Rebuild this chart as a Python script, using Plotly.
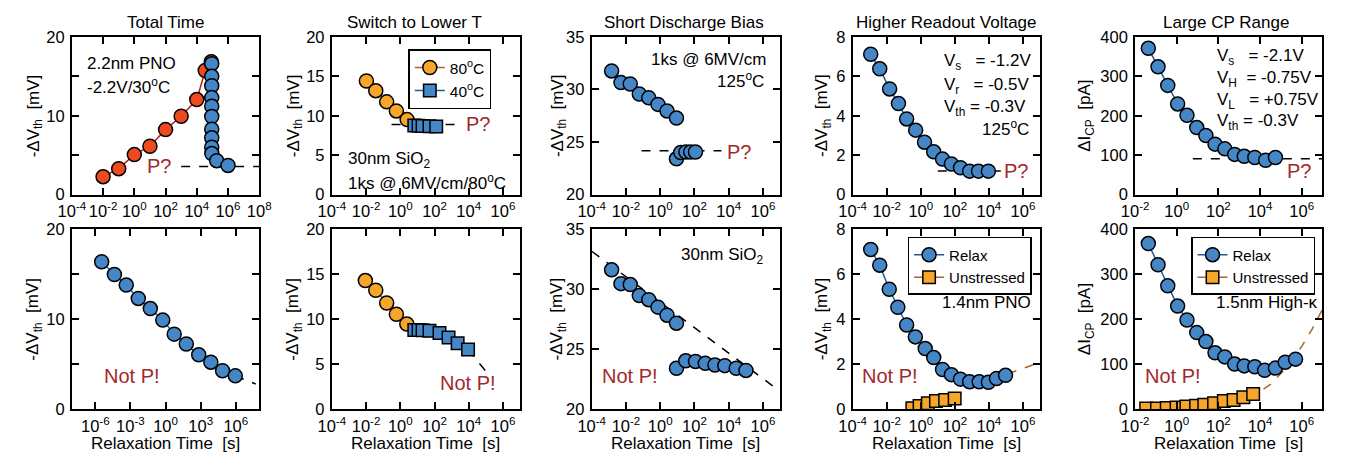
import plotly.graph_objects as go

W, H = 1359, 469
FONT = "Liberation Sans, Arial, Helvetica, sans-serif"

BLUE = "#4586C7"
BLUE_LINE = "#1F5D9B"
ORANGE = "#F6A62B"
ORANGE_LINE = "#A8692C"
RED = "#EE4A1F"
RED_LINE = "#B0231A"
TEXTRED = "#A3282B"

# ---------------- data ----------------
# Panel 1 (top): Total Time, 2.2nm PNO
p1_stress_t = [1e-2, 1e-1, 1e0, 1e1, 1e2, 1e3, 1e4, 3.5e4, 8.5e4]
p1_stress_v = [2.27, 3.29, 5.07, 6.13, 8.24, 9.94, 12.05, 15.74, 16.84]
p1_relax_t = [9.1e4, 9.1e4, 9.1e4, 9.1e4, 9.1e4, 9.1e4, 9.1e4, 9.1e4, 9.1e4, 9.2e4, 1.9e5, 1.0e6]
p1_relax_v = [16.6, 15.0, 13.8, 12.3, 11.2, 9.9, 8.3, 7.2, 6.0, 5.2, 4.3, 3.7]
p1_p_t = [1e3, 1e8]
p1_p_v = [3.57, 3.57]

# Panel 6 (bottom): relaxation only
p6_t = [3.5e-6, 4.3e-5, 4.4e-4, 4.7e-3, 5.0e-2, 0.58, 5.5, 59, 680, 7.4e3, 7.4e4, 9.1e5]
p6_v = [16.38, 14.96, 13.79, 12.30, 11.17, 9.89, 8.33, 7.23, 6.03, 5.21, 4.26, 3.69]
p6_fit_t = [9.1e5, 5.0e7]
p6_fit_v = [3.69, 2.78]

# Panel 2 (top): Switch to lower T
p2_80_t = [1.05e-2, 3.7e-2, 0.16, 0.59, 2.5]
p2_80_v = [14.41, 13.18, 11.76, 10.61, 9.51]
p2_40_t = [6.6, 11.7, 20, 51, 126]
p2_40_v = [8.75, 8.72, 8.7, 8.66, 8.62]
p2_p_t = [0.31, 3800]
p2_p_v = [8.9, 8.9]

# Panel 7 (bottom)
p7_80_t = [9.1e-3, 3.7e-2, 0.16, 0.59, 2.4]
p7_80_v = [14.29, 13.21, 11.79, 10.54, 9.46]
p7_40_t = [6.6, 11.7, 20, 51, 195, 660, 2240, 9100]
p7_40_v = [8.8, 8.8, 8.75, 8.7, 8.45, 7.96, 7.32, 6.61]
p7_fit_t = [9100, 1.3e5]
p7_fit_v = [6.61, 3.93]

# Panel 3 (top): Short discharge bias
p3_up_t = [1.45e-3, 5.1e-3, 1.78e-2, 6.0e-2, 0.214, 0.74, 2.5, 8.9]
p3_up_v = [31.76, 30.65, 30.52, 29.57, 29.20, 28.58, 27.96, 27.28]
p3_lo_t = [8.9, 15.8, 31.6, 60, 115]
p3_lo_v = [23.4, 24.0, 24.05, 24.05, 24.05]
p3_p_t = [0.081, 3800]
p3_p_v = [24.17, 24.17]

# Panel 8 (bottom)
p8_up_t = [1.45e-3, 5.1e-3, 1.78e-2, 6.0e-2, 0.214, 0.74, 2.5, 8.9]
p8_up_v = [31.61, 30.46, 30.38, 29.46, 29.12, 28.50, 27.83, 27.16]
p8_lo_t = [8.9, 31, 115, 427, 1580, 5890, 2.75e4, 1.02e5]
p8_lo_v = [23.40, 24.02, 23.97, 23.81, 23.67, 23.62, 23.40, 23.22]
p8_fit_t = [1.05e-4, 8.9e6]
p8_fit_v = [33.14, 21.53]

# Panel 4 (top): Higher readout voltage
p4_t = [1.15e-3, 3.9e-3, 1.48e-2, 4.9e-2, 0.148, 0.5, 1.66, 5.75, 19, 63, 214, 741, 2450, 9330]
p4_v = [7.12, 6.38, 5.36, 4.62, 3.84, 3.27, 2.66, 2.17, 1.80, 1.55, 1.36, 1.19, 1.19, 1.19]
p4_p_t = [10, 8e4]
p4_p_v = [1.2, 1.2]

# Panel 9 (bottom)
p9_relax_t = [1.15e-3, 3.9e-3, 1.41e-2, 4.5e-2, 0.148, 0.48, 1.82, 5.75, 19, 63, 214, 741, 2690, 9330, 2.8e4, 9.5e4]
p9_relax_v = [7.10, 6.40, 5.33, 4.53, 3.74, 3.21, 2.69, 2.29, 1.76, 1.53, 1.33, 1.21, 1.21, 1.19, 1.36, 1.50]
p9_un_t = [0.32, 0.85, 2.6, 7.8, 27, 98]
p9_un_v = [0.03, 0.14, 0.26, 0.36, 0.40, 0.47]
p9_fit_t = [1.3e5, 1e7]
p9_fit_v = [1.57, 2.07]

# Panel 5 (top): Large CP range
p5_t = [0.043, 0.126, 0.37, 1.1, 3.1, 9.1, 25, 69, 204, 603, 1740, 5620, 1.86e4, 5.5e4]
p5_v = [371, 324, 277, 230, 201, 170, 150, 128, 116, 102, 97, 94, 87, 94]
p5_p_t = [5.9, 1e7]
p5_p_v = [91, 91]

# Panel 10 (bottom)
p10_relax_t = [0.043, 0.126, 0.37, 1.1, 3.1, 9.1, 25, 69, 204, 603, 1740, 5620, 1.66e4, 5.5e4, 1.62e5, 5.1e5]
p10_relax_v = [368, 321, 274, 229, 198, 170, 150, 125, 116, 100, 96, 94, 86, 91, 104, 111]
p10_un_t = [0.034, 0.112, 0.33, 0.98, 2.9, 8.5, 21, 62, 182, 537, 1580, 4680]
p10_un_v = [1.4, 1.4, 2.1, 3.6, 5.7, 7.1, 9.3, 12.9, 17.9, 20.0, 26.4, 33.6]
p10_fit_t = [1, 10, 100, 1e3, 5e3, 3.2e4, 1.6e5, 1e6, 3.2e6, 1e7]
p10_fit_v = [2, 5, 10, 20, 30, 55, 89, 139, 178, 222]

titles = ["Total Time", "Switch to Lower T", "Short Discharge Bias",
          "Higher Readout Voltage", "Large CP Range"]

# ---------------- layout geometry ----------------
cols = [(59, 250), (324, 516), (589, 781), (855, 1046), (1143, 1334)]
rows = [(29, 193), (229, 416)]

def dec(k):
    return "10<sup>%d</sup>" % k

xspec = {
    1: (-4, 8, [-4, -2, 0, 2, 4, 6, 8]),
    2: (-4, 7, [-4, -2, 0, 2, 4, 6]),
    3: (-4, 7, [-4, -2, 0, 2, 4, 6]),
    4: (-4, 7, [-4, -2, 0, 2, 4, 6]),
    5: (-2, 7, [-2, 0, 2, 4, 6]),
    6: (-8, 8, [-6, -3, 0, 3, 6]),
    7: (-4, 7, [-4, -2, 0, 2, 4, 6]),
    8: (-4, 7, [-4, -2, 0, 2, 4, 6]),
    9: (-4, 7, [-4, -2, 0, 2, 4, 6]),
    10: (-2, 7, [-2, 0, 2, 4, 6]),
}
yspec = {
    1: ([0, 20], [0, 5, 10, 15, 20], ["0", "", "10", "", "20"]),
    2: ([0, 20], [0, 5, 10, 15, 20], ["0", "5", "10", "15", "20"]),
    3: ([20, 35], [20, 25, 30, 35], ["20", "25", "30", "35"]),
    4: ([0, 8], [0, 2, 4, 6, 8], ["0", "2", "4", "6", "8"]),
    5: ([0, 400], [0, 100, 200, 300, 400], ["0", "100", "200", "300", "400"]),
}
for k in range(1, 6):
    yspec[k + 5] = yspec[k]

VTH = "-ΔV<sub>th</sub>\u00a0\u00a0[mV]"
ICP = "ΔI<sub>CP</sub>\u00a0\u00a0[pA]"

fig = go.Figure()

def sfx(k):
    return "" if k == 1 else str(k)

def add(k, x, y, mode="lines+markers", color=BLUE, lcolor=BLUE_LINE, symbol="circle",
        size=14, dash=None, name=None, legend=None, lwidth=1.5):
    showleg = name is not None
    tr = dict(x=x, y=y, mode=mode, xaxis="x" + sfx(k), yaxis="y" + sfx(k),
              showlegend=showleg, hoverinfo="skip")
    if "markers" in mode:
        tr["marker"] = dict(color=color, symbol=symbol, size=size,
                            line=dict(color="black", width=1.5))
    tr["line"] = dict(color=lcolor, width=lwidth, dash=dash)
    if showleg:
        tr["name"] = name
        tr["legend"] = legend
    fig.add_trace(go.Scatter(**tr))

SQ = 12.5

# Panel 1
add(1, p1_p_t, p1_p_v, mode="lines", lcolor="black", dash="dash")
add(1, p1_stress_t, p1_stress_v, color=RED, lcolor=RED_LINE)
add(1, p1_relax_t, p1_relax_v)
# Panel 6
add(6, p6_fit_t, p6_fit_v, mode="lines", lcolor="black", dash="dash")
add(6, p6_t, p6_v)
# Panel 2
add(2, p2_p_t, p2_p_v, mode="lines", lcolor="black", dash="dash")
add(2, p2_80_t, p2_80_v, color=ORANGE, lcolor=ORANGE_LINE, name="80<sup>o</sup>C", legend="legend")
add(2, p2_40_t, p2_40_v, color=BLUE, lcolor=BLUE_LINE, symbol="square", size=SQ,
    name="40<sup>o</sup>C", legend="legend")
# Panel 7
add(7, p7_fit_t, p7_fit_v, mode="lines", lcolor="black", dash="dash")
add(7, p7_80_t, p7_80_v, color=ORANGE, lcolor=ORANGE_LINE)
add(7, p7_40_t, p7_40_v, symbol="square", size=SQ)
# Panel 3
add(3, p3_p_t, p3_p_v, mode="lines", lcolor="black", dash="dash")
add(3, p3_up_t, p3_up_v, mode="markers")
add(3, p3_lo_t, p3_lo_v, mode="markers")
# Panel 8
add(8, p8_fit_t, p8_fit_v, mode="lines", lcolor="black", dash="dash")
add(8, p8_up_t, p8_up_v, mode="markers")
add(8, p8_lo_t, p8_lo_v, mode="markers")
# Panel 4
add(4, p4_p_t, p4_p_v, mode="lines", lcolor="black", dash="dash")
add(4, p4_t, p4_v)
# Panel 9
add(9, p9_fit_t, p9_fit_v, mode="lines", lcolor=ORANGE_LINE, dash="dash")
add(9, p9_relax_t, p9_relax_v, name="Relax", legend="legend2")
add(9, p9_un_t, p9_un_v, color=ORANGE, lcolor=ORANGE_LINE, symbol="square", size=SQ,
    name="Unstressed", legend="legend2")
# Panel 5
add(5, p5_p_t, p5_p_v, mode="lines", lcolor="black", dash="dash")
add(5, p5_t, p5_v)
# Panel 10
add(10, p10_fit_t, p10_fit_v, mode="lines", lcolor=ORANGE_LINE, dash="dash")
add(10, p10_relax_t, p10_relax_v, name="Relax", legend="legend3")
add(10, p10_un_t, p10_un_v, color=ORANGE, lcolor=ORANGE_LINE, symbol="square", size=SQ,
    name="Unstressed", legend="legend3")

layout = dict(
    width=W, height=H, margin=dict(l=0, r=0, t=0, b=0),
    paper_bgcolor="white", plot_bgcolor="white",
    font=dict(family=FONT, size=16, color="black"),
)

for r in range(2):
    for c in range(5):
        k = r * 5 + c + 1
        x0, x1 = cols[c]
        y0, y1 = rows[r]
        xlo, xhi, xt = xspec[k]
        yr, yt, ytt = yspec[k]
        xa = dict(domain=[x0 / W, x1 / W], anchor="y" + sfx(k), type="log",
                  range=[xlo, xhi], tickvals=[10.0 ** e for e in xt],
                  ticktext=[dec(e) for e in xt], ticks="inside", ticklen=7,
                  tickwidth=1.5, tickcolor="black", mirror="ticks", showline=True,
                  linewidth=2, linecolor="black", showgrid=False, zeroline=False,
                  tickfont=dict(size=16.5), ticklabelstandoff=1)
        ya = dict(domain=[1 - y1 / H, 1 - y0 / H], anchor="x" + sfx(k), range=yr,
                  tickvals=yt, ticktext=ytt, ticks="inside", ticklen=7, tickwidth=1.5,
                  tickcolor="black", mirror="ticks", showline=True, linewidth=2,
                  linecolor="black", showgrid=False, zeroline=False,
                  tickfont=dict(size=16.5), ticklabelstandoff=2)
        layout["xaxis" + sfx(k)] = xa
        layout["yaxis" + sfx(k)] = ya

leg_common = dict(xanchor="left", yanchor="top", bordercolor="black", borderwidth=1.5,
                  bgcolor="white", tracegroupgap=0, itemwidth=30)
layout["legend"] = dict(x=402 / W, y=1 - 42 / H, font=dict(size=15.5), **leg_common)
layout["legend2"] = dict(x=911 / W, y=1 - 237 / H, font=dict(size=15), **leg_common)
layout["legend3"] = dict(x=1200 / W, y=1 - 237 / H, font=dict(size=15), **leg_common)

fig.update_layout(**layout)

def ann(text, x, y, xanchor="left", size=17, color="black", angle=0):
    fig.add_annotation(text=text, x=x / W, y=1 - y / H, xref="paper", yref="paper",
                       xanchor=xanchor, yanchor="middle", showarrow=False,
                       textangle=angle,
                       font=dict(size=size, color=color, family=FONT))

# titles
for cx, t in zip([154, 408, 683, 951, 1236], titles):
    ann(t, cx, 14, xanchor="center", size=17)

# axis titles
ytitle_x = [21, 286, 555, 825, 1093]
for r in range(2):
    yc = (rows[r][0] + rows[r][1]) / 2
    for c in range(5):
        ann(ICP if c == 4 else VTH, ytitle_x[c], yc, xanchor="center", size=17, angle=-90)
for c in range(5):
    ann("Relaxation Time\u00a0\u00a0[s]", (cols[c][0] + cols[c][1]) / 2, 452,
        xanchor="center", size=17)

# panel texts
ann("2.2nm PNO", 72, 57)
ann("-2.2V/30<sup>o</sup>C", 72, 80)
ann("P?", 148, 163, xanchor="center", size=20, color=TEXTRED)

ann("30nm SiO<sub>2</sub>", 338, 157)
ann("1ks @ 6MV/cm/80<sup>o</sup>C", 338, 180)
ann("P?", 473, 120, xanchor="center", size=20, color=TEXTRED)

ann("1ks @ 6MV/cm", 770, 52, xanchor="right")
ann("125<sup>o</sup>C", 767, 74, xanchor="right")
ann("P?", 739, 149, xanchor="center", size=20, color=TEXTRED)

ann("V<sub>s</sub>\u00a0\u00a0 = -1.2V", 946, 55)
ann("V<sub>r</sub>\u00a0\u00a0 = -0.5V", 946, 80)
ann("V<sub>th</sub> = -0.3V", 946, 103)
ann("125<sup>o</sup>C", 1037, 124, xanchor="right")
ann("P?", 1022, 168, xanchor="center", size=20, color=TEXTRED)

ann("V<sub>s</sub>\u00a0\u00a0 = -2.1V", 1224, 50)
ann("V<sub>H</sub>\u00a0 = -0.75V", 1224, 73)
ann("V<sub>L</sub>\u00a0\u00a0 = +0.75V", 1224, 96)
ann("V<sub>th</sub> = -0.3V", 1224, 117)
ann("P?", 1310, 168, xanchor="center", size=20, color=TEXTRED)

ann("Not P!", 120, 382, xanchor="center", size=20, color=TEXTRED)
ann("Not P!", 463, 389, xanchor="center", size=20, color=TEXTRED)
ann("Not P!", 628, 382, xanchor="center", size=20, color=TEXTRED)
ann("30nm SiO<sub>2</sub>", 767, 257, xanchor="right")
ann("Not P!", 893, 382, xanchor="center", size=20, color=TEXTRED)
ann("1.4nm PNO", 1039, 305, xanchor="right")
ann("Not P!", 1182, 382, xanchor="center", size=20, color=TEXTRED)
ann("1.5nm High-κ", 1331, 305, xanchor="right")

fig.write_html("out.html")
